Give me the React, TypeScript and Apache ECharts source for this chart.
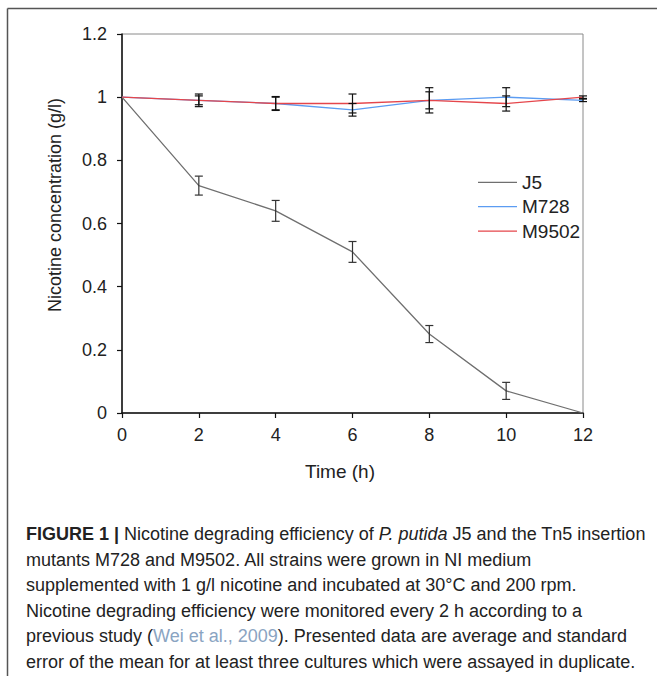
import React, { useEffect, useRef } from "react";
import * as echarts from "echarts";

const times = [0, 2, 4, 6, 8, 10, 12];
const j5 = [1.0, 0.72, 0.64, 0.51, 0.25, 0.07, 0.0];
const j5Err = [0, 0.03, 0.033, 0.033, 0.027, 0.027, 0];
const m728 = [1.0, 0.99, 0.98, 0.96, 0.99, 1.0, 0.99];
const m728Err = [0, 0.02, 0.022, 0.02, 0.04, 0.03, 0.004];
const m9502 = [1.0, 0.99, 0.98, 0.98, 0.99, 0.98, 1.0];
const m9502Err = [0, 0.014, 0.02, 0.03, 0.027, 0.024, 0.004];

const seriesNames = ["J5", "M728", "M9502"];
const seriesColors = ["#6f6f6f", "#5b9cf2", "#e5464b"];

const captionLines = [
  "{b|FIGURE 1 |} Nicotine degrading efficiency of {i|P. putida} J5 and the Tn5 insertion",
  "mutants M728 and M9502. All strains were grown in NI medium",
  "supplemented with 1 g/l nicotine and incubated at 30°C and 200 rpm.",
  "Nicotine degrading efficiency were monitored every 2 h according to a",
  "previous study ({l|Wei et al., 2009}). Presented data are average and standard",
  "error of the mean for at least three cultures which were assayed in duplicate.",
];

const FONT = "'Liberation Sans', Arial, sans-serif";

function errData(vals: number[], errs: number[]) {
  return times
    .map((t, i) => [t, vals[i] - errs[i], vals[i] + errs[i], errs[i]])
    .filter((d) => d[3] > 0);
}

function errSeries(vals: number[], errs: number[], color: string) {
  return {
    type: "custom",
    clip: false,
    silent: true,
    z: 5,
    data: errData(vals, errs),
    renderItem: (params: any, api: any) => {
      const x = api.value(0);
      const lo = api.coord([x, api.value(1)]);
      const hi = api.coord([x, api.value(2)]);
      const w = 4;
      const style = { stroke: color, lineWidth: 1.2 };
      return {
        type: "group",
        children: [
          { type: "line", shape: { x1: lo[0], y1: lo[1], x2: hi[0], y2: hi[1] }, style },
          { type: "line", shape: { x1: lo[0] - w, y1: lo[1], x2: lo[0] + w, y2: lo[1] }, style },
          { type: "line", shape: { x1: hi[0] - w, y1: hi[1], x2: hi[0] + w, y2: hi[1] }, style },
        ],
      };
    },
  };
}

export default function App() {
  const ref = useRef<HTMLDivElement>(null);
  useEffect(() => {
    document.body.style.margin = "0";
    const chart = echarts.init(ref.current!, null, { renderer: "svg" });
    const lineVals = [j5, m728, m9502];
    const captionGraphics = captionLines.map((t, i) => ({
      type: "text",
      left: 26,
      top: 525 + i * 25.6,
      style: {
        text: t,
        font: `18px ${FONT}`,
        fill: "#222",
        rich: {
          b: { fontWeight: "bold", fontSize: 18, fontFamily: FONT, fill: "#222" },
          i: { fontStyle: "italic", fontSize: 18, fontFamily: FONT, fill: "#222" },
          l: { fontSize: 18, fontFamily: FONT, fill: "#8aa4c2" },
        },
      },
    }));
    const legendGraphics: any[] = [];
    seriesNames.forEach((name, k) => {
      const y = 182.3 + k * 24.4;
      legendGraphics.push({
        type: "line",
        shape: { x1: 478, y1: y, x2: 517, y2: y },
        style: { stroke: seriesColors[k], lineWidth: 1.3 },
      });
      legendGraphics.push({
        type: "text",
        x: 522,
        y,
        style: {
          text: name,
          font: `19px ${FONT}`,
          fill: "#222",
          align: "left",
          verticalAlign: "middle",
        },
      });
    });
    chart.setOption({
      animation: false,
      textStyle: { fontFamily: FONT },
      grid: {
        left: 122,
        top: 34,
        width: 461,
        height: 379,
        show: true,
        borderColor: "#8a8a8a",
        borderWidth: 1,
      },
      xAxis: {
        type: "value",
        min: 0,
        max: 12,
        interval: 2,
        splitLine: { show: false },
        axisLine: { lineStyle: { color: "#111", width: 1.5 } },
        axisTick: { length: 5, lineStyle: { color: "#111", width: 1.2 } },
        axisLabel: { fontSize: 18, color: "#222", margin: 13, fontFamily: FONT },
        name: "Time (h)",
        nameLocation: "middle",
        nameGap: 49,
        nameTextStyle: { fontSize: 19, color: "#222", padding: [0, 25, 0, 0], fontFamily: FONT },
      },
      yAxis: {
        type: "value",
        min: 0,
        max: 1.2,
        interval: 0.2,
        splitLine: { show: false },
        axisLine: { lineStyle: { color: "#111", width: 1.5 } },
        axisTick: { length: 5, lineStyle: { color: "#111", width: 1.2 } },
        axisLabel: { fontSize: 18, color: "#222", margin: 15, fontFamily: FONT },
      },
      graphic: [
        {
          type: "line",
          shape: { x1: 7.5, y1: 8.5, x2: 657, y2: 8.5 },
          style: { stroke: "#555", lineWidth: 1.5 },
        },
        {
          type: "line",
          shape: { x1: 7.5, y1: 8.5, x2: 7.5, y2: 676 },
          style: { stroke: "#555", lineWidth: 1.5 },
        },
        {
          type: "text",
          x: 55,
          y: 205,
          rotation: Math.PI / 2,
          style: {
            text: "Nicotine concentration (g/l)",
            font: `18px ${FONT}`,
            fill: "#222",
            align: "center",
            verticalAlign: "middle",
          },
        },
        ...legendGraphics,
        ...captionGraphics,
      ],
      series: [
        ...seriesNames.map((name, k) => ({
          name,
          type: "line",
          symbol: "none",
          z: 3,
          color: seriesColors[k],
          lineStyle: { color: seriesColors[k], width: 1.3 },
          data: times.map((t, i) => [t, lineVals[k][i]]),
        })),
        errSeries(j5, j5Err, "#333"),
        errSeries(m728, m728Err, "#111"),
        errSeries(m9502, m9502Err, "#111"),
      ],
    });
    return () => chart.dispose();
  }, []);
  return <div ref={ref} style={{ width: 657, height: 676 }} />;
}
